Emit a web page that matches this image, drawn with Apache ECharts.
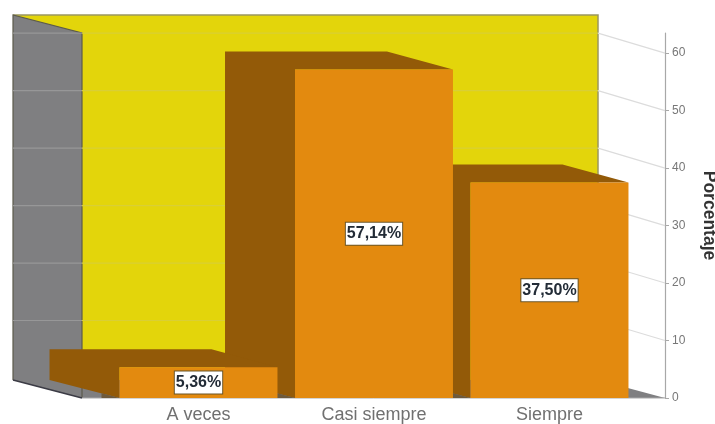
<!DOCTYPE html>
<html>
<head>
<meta charset="utf-8">
<script src="https://cdn.jsdelivr.net/npm/echarts@6/dist/echarts.min.js"></script>
<style>html,body{margin:0;padding:0;background:#fff}#c{width:715px;height:424px}</style>
</head>
<body>
<div id="c"></div>
<script>
const categories = ['A veces', 'Casi siempre', 'Siempre'];
const percentages = [5.36, 57.14, 37.50];
const valueLabels = ['5,36%', '57,14%', '37,50%'];
const ticks = [0, 10, 20, 30, 40, 50, 60];
const axisTop = 63.5;

// Oblique projection used for the box: the rear plane sits up and to the left.
const DEPTH_X = 70, DEPTH_X_RIGHT = 66, DEPTH_Y = 18, GRID_DEPTH_Y = 20, CONTACT_X = 18;
const YELLOW = '#e3d50b', GRAY = '#7f7f81', BROWN = '#935a08', ORANGE = '#e38a0f', CONTACT = '#6e5a3c';

const chart = echarts.init(document.getElementById('c'), null, {renderer: 'canvas'});

// Rear wall, left wall and floor of the box.
function renderWalls(params, api) {
  const y0 = api.coord([0, 0])[1];
  const yT = api.coord([0, axisTop])[1];
  const frontL = 82, frontR = 665;
  const backL = frontL - 69, backR = 598;
  const poly = (points, fill) => ({type: 'polygon', shape: {points}, style: {fill}});
  return {type: 'group', children: [
    poly([[backL, yT - DEPTH_Y], [backR, yT - DEPTH_Y], [backR, y0 - DEPTH_Y], [backL, y0 - DEPTH_Y]], YELLOW),
    poly([[backL, y0 - DEPTH_Y], [backR, y0 - DEPTH_Y], [frontR, y0], [frontL, y0]], GRAY),
    poly([[backL, yT - DEPTH_Y], [frontL, yT], [frontL, y0], [backL, y0 - DEPTH_Y]], GRAY),
    {type: 'polyline', shape: {points: [[backL, yT - DEPTH_Y], [backR, yT - DEPTH_Y], [backR, y0 - DEPTH_Y]]},
     style: {fill: null, stroke: '#9a9660', lineWidth: 1.5}},
    {type: 'polyline', shape: {points: [[backL, y0 - DEPTH_Y], [backL, yT - DEPTH_Y], [frontL, yT], [frontL, y0]]},
     style: {fill: null, stroke: '#5c5a4c', lineWidth: 1.2}},
    {type: 'line', shape: {x1: backL, y1: y0 - DEPTH_Y, x2: frontL, y2: y0},
     style: {stroke: '#3b3b45', lineWidth: 1.5}},
    {type: 'line', shape: {x1: frontL, y1: y0, x2: frontR, y2: y0},
     style: {stroke: '#a9a9a9', lineWidth: 1}}
  ]};
}

// One gridline per tick, wrapping across the left wall, rear wall and open right side.
function renderGridline(params, api) {
  const v = api.value(0);
  const y = api.coord([0, v])[1];
  if (v === 0) return {type: 'group', children: []};
  const yb = y - GRID_DEPTH_Y;
  const seg = (x1, y1, x2, y2, stroke) => ({
    type: 'line', shape: {x1, y1, x2, y2}, style: {stroke, lineWidth: 1.2}
  });
  return {type: 'group', children: [
    seg(13, yb, 82, yb, '#979798'),
    seg(82, yb, 598, yb, '#d9cf35'),
    seg(598, yb, 665, y, '#dcdcdc')
  ]};
}

// A solid bar: left side with top face, floor contact, and front face.
function renderBar(params, api) {
  const i = api.value(0);
  const center = api.coord([i, api.value(1)]);
  const y0 = api.coord([i, 0])[1];
  const w = api.size([1, 0])[0] * 0.9;
  const l = center[0] - w / 2, r = center[0] + w / 2, t = center[1];
  const order = (categories.length - i) * 3;
  const contactY = y0 - DEPTH_Y * CONTACT_X / DEPTH_X;
  return {type: 'group', children: [
    {type: 'polygon', z2: order,
     shape: {points: [[l - DEPTH_X, t - DEPTH_Y], [r - DEPTH_X_RIGHT, t - DEPTH_Y], [r, t], [l, t], [l, y0], [l - DEPTH_X, y0 - DEPTH_Y]]},
     style: {fill: BROWN}},
    {type: 'polygon', z2: order,
     shape: {points: [[l - CONTACT_X, contactY], [l, y0], [l - CONTACT_X, y0]]},
     style: {fill: CONTACT}},
    {type: 'rect', z2: order + 1,
     shape: {x: l, y: t, width: r - l, height: y0 - t},
     style: {fill: ORANGE}},
    {type: 'text', z2: 50,
     style: {
       x: center[0], y: (t + y0) / 2,
       text: valueLabels[i], align: 'center', verticalAlign: 'middle',
       font: 'bold 16px "Liberation Sans", sans-serif', fill: '#222b36',
       backgroundColor: '#ffffff', borderColor: '#6b5526', borderWidth: 1,
       padding: [3, 1, 3, 1]
     }}
  ]};
}

chart.setOption({
  animation: false,
  backgroundColor: '#ffffff',
  grid: {left: 110.75, width: 526.5, top: 33, bottom: 26, outerBoundsMode: 'none'},
  xAxis: {
    type: 'category', data: categories,
    axisLine: {show: false}, axisTick: {show: false},
    axisLabel: {color: '#707070', fontSize: 18, margin: 8, fontFamily: '"Liberation Sans", sans-serif'}
  },
  yAxis: {
    type: 'value', position: 'right', offset: 27.75,
    min: 0, max: axisTop, interval: 10,
    name: 'Porcentaje', nameLocation: 'middle', nameGap: 35, nameRotate: -90,
    nameTextStyle: {color: '#333', fontWeight: 'bold', fontSize: 17.5, fontFamily: '"Liberation Sans", sans-serif'},
    axisLine: {show: true, lineStyle: {color: '#a8a8a8', width: 1.2}},
    axisTick: {show: true, length: 4, customValues: ticks, lineStyle: {color: '#a8a8a8'}},
    axisLabel: {color: '#777', fontSize: 12, margin: 7, customValues: ticks, fontFamily: '"Liberation Sans", sans-serif'},
    splitLine: {show: false}
  },
  series: [
    {type: 'custom', z: 1, silent: true, data: [[0]], renderItem: renderWalls, encode: {y: 0}, clip: false},
    {type: 'custom', z: 2, silent: true, data: ticks.map(v => [v]), renderItem: renderGridline, encode: {y: 0}, clip: false},
    {type: 'custom', z: 3, silent: true,
     data: percentages.map((v, i) => [i, v]), renderItem: renderBar, encode: {x: 0, y: 1}, clip: false}
  ]
});
</script>
</body>
</html>
